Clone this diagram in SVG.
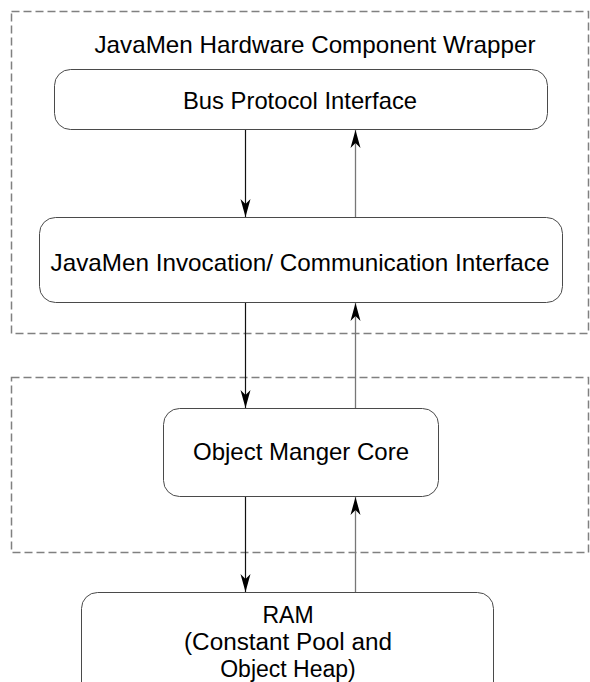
<svg xmlns="http://www.w3.org/2000/svg" width="590" height="682" viewBox="0 0 590 682">
  <style>
    .frame { fill: none; stroke: #808080; stroke-width: 1.5; stroke-dasharray: 8 4; }
    .box { fill: #ffffff; stroke: #4a4a4a; stroke-width: 1; }
    .label { font-family: "Liberation Sans", Arial, sans-serif; font-size: 24px; fill: #000; text-anchor: middle; }
    .ram-line { font-size: 23px; }
    .down { stroke: #111; stroke-width: 1.2; fill: none; }
    .up { stroke: #777; stroke-width: 1.3; fill: none; }
  </style>
  <defs>
    <marker id="head" markerWidth="20" markerHeight="12" refX="18" refY="6" orient="auto" markerUnits="userSpaceOnUse">
      <path d="M0,1 L18,6 L0,11 L5,6 Z" fill="#000"/>
    </marker>
  </defs>

  <rect width="590" height="682" fill="#ffffff"/>

  <!-- hardware wrapper frame -->
  <g id="wrapper">
    <rect class="frame" x="11.5" y="11.5" width="577" height="322"/>
    <text class="label" x="315" y="53" textLength="441" lengthAdjust="spacingAndGlyphs">JavaMen Hardware Component Wrapper</text>
  </g>

  <!-- core frame -->
  <g id="core-frame">
    <rect class="frame" x="11.5" y="377.5" width="577" height="175"/>
  </g>

  <g id="bus">
    <rect class="box" x="54.5" y="69.5" width="493" height="60" rx="16"/>
    <text class="label" x="300" y="109" textLength="234" lengthAdjust="spacingAndGlyphs">Bus Protocol Interface</text>
  </g>

  <g id="invocation">
    <rect class="box" x="39.5" y="217.5" width="523" height="85" rx="16"/>
    <text class="label" x="300" y="271" textLength="499" lengthAdjust="spacingAndGlyphs">JavaMen Invocation/ Communication Interface</text>
  </g>

  <g id="object-manager">
    <rect class="box" x="163.5" y="408.5" width="275" height="88" rx="16"/>
    <text class="label" x="301" y="460" textLength="216" lengthAdjust="spacingAndGlyphs">Object Manger Core</text>
  </g>

  <g id="ram">
    <rect class="box" x="81.5" y="592.5" width="412" height="110" rx="16"/>
    <text class="label ram-line" x="288" y="623">RAM</text>
    <text class="label ram-line" x="288" y="650" textLength="208" lengthAdjust="spacingAndGlyphs">(Constant Pool and</text>
    <text class="label ram-line" x="288" y="677">Object Heap)</text>
  </g>

  <g id="connectors">
    <line class="down" x1="245.5" y1="130" x2="245.5" y2="217" marker-end="url(#head)"/>
    <line class="up" x1="355.5" y1="217" x2="355.5" y2="130" marker-end="url(#head)"/>
    <line class="down" x1="245.5" y1="303" x2="245.5" y2="408" marker-end="url(#head)"/>
    <line class="up" x1="355.5" y1="408" x2="355.5" y2="303" marker-end="url(#head)"/>
    <line class="down" x1="245.5" y1="497" x2="245.5" y2="592" marker-end="url(#head)"/>
    <line class="up" x1="355.5" y1="592" x2="355.5" y2="497" marker-end="url(#head)"/>
  </g>
</svg>
